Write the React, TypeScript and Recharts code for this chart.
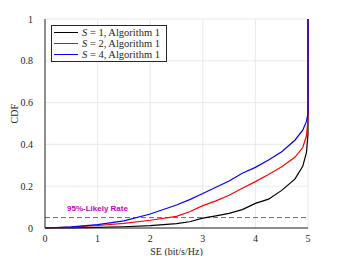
import { LineChart, Line, XAxis, YAxis, CartesianGrid, ReferenceLine } from 'recharts';

const xs = [0, 0.5, 1, 1.5, 2, 2.5, 2.75, 3, 3.25, 3.5, 3.75, 4, 4.25, 4.5, 4.75, 4.9, 4.97, 5, 5];
const s1 = [0, 0.001, 0.003, 0.006, 0.011, 0.021, 0.03, 0.047, 0.058, 0.07, 0.088, 0.118, 0.138, 0.18, 0.234, 0.295, 0.36, 0.45, 1];
const s2 = [0, 0.004, 0.012, 0.022, 0.037, 0.056, 0.078, 0.107, 0.13, 0.157, 0.19, 0.222, 0.256, 0.293, 0.338, 0.385, 0.44, 0.52, 1];
const s4 = [0, 0.005, 0.016, 0.034, 0.067, 0.11, 0.136, 0.165, 0.195, 0.225, 0.262, 0.29, 0.325, 0.365, 0.42, 0.468, 0.51, 0.55, 1];

const xTicks = [0, 1, 2, 3, 4, 5];
const yTicks = [0, 0.2, 0.4, 0.6, 0.8, 1];

const series = [
    { key: 's1', label: '1', color: '#000000' },
    { key: 's2', label: '2', color: '#ff0000' },
    { key: 's4', label: '4', color: '#0000ff' },
];

const data = xs.map((x, i) => ({ x, s1: s1[i], s2: s2[i], s4: s4[i] }));

const serif = '"Liberation Serif", "DejaVu Serif", serif';
const axisColor = '#262626';

export default function App() {
    return (
        <div style={{ position: 'absolute', left: 0, top: 0, width: 341, height: 256, background: '#fff' }}>
            <LineChart width={341} height={256} data={data} margin={{ top: 19, right: 33, bottom: 0, left: 0 }}>
                <CartesianGrid stroke="#e4e4e4" strokeWidth={0.8} />
                <XAxis
                    dataKey="x"
                    type="number"
                    domain={[0, 5]}
                    ticks={xTicks}
                    height={28}
                    stroke={axisColor}
                    tickLine={false}
                    tick={{ fill: axisColor, fontSize: 10, fontFamily: serif }}
                    tickMargin={1}
                    label={{ value: 'SE (bit/s/Hz)', position: 'insideBottom', offset: 1, fill: axisColor, fontSize: 10, fontFamily: serif }}
                />
                <XAxis xAxisId="top" orientation="top" dataKey="x" type="number" domain={[0, 5]} ticks={xTicks} height={0} stroke={axisColor} tick={false} tickLine={false} />
                <YAxis
                    type="number"
                    domain={[0, 1]}
                    ticks={yTicks}
                    width={45}
                    stroke={axisColor}
                    tickLine={false}
                    tick={{ fill: axisColor, fontSize: 10, fontFamily: serif }}
                    tickMargin={6}
                    label={{ value: 'CDF', angle: -90, position: 'insideLeft', offset: 14, fill: axisColor, fontSize: 10, fontFamily: serif }}
                />
                <YAxis yAxisId="right" orientation="right" type="number" domain={[0, 1]} ticks={yTicks} width={0} stroke={axisColor} tick={false} tickLine={false} />
                <ReferenceLine
                    y={0.05}
                    stroke="#e020e0"
                    strokeDasharray="5 3"
                    strokeWidth={1}
                    label={{ value: '95%-Likely Rate', position: 'insideBottomLeft', dx: 17, dy: -2, fill: '#c800c8', fontSize: 8, fontWeight: 'bold', fontFamily: 'Arial, "Liberation Sans", sans-serif' }}
                />
                {series.map((s) => (
                    <Line key={s.key} type="linear" dataKey={s.key} stroke={s.color} strokeWidth={1.2} dot={false} isAnimationActive={false} />
                ))}
            </LineChart>
            <div
                style={{
                    position: 'absolute',
                    left: 51,
                    top: 25,
                    width: 116,
                    height: 37,
                    border: `1px solid ${axisColor}`,
                    background: '#fff',
                    fontFamily: serif,
                    fontSize: 10.5,
                    color: axisColor,
                    boxSizing: 'border-box',
                    paddingTop: 1,
                }}
            >
                {series.map((s) => (
                    <div key={s.key} style={{ display: 'flex', alignItems: 'center', height: 11, lineHeight: '11px' }}>
                        <span style={{ display: 'inline-block', width: 24, height: 1, background: s.color, marginLeft: 2, marginRight: 4 }} />
                        <span>
                            <i>S</i> = {s.label}, Algorithm 1
                        </span>
                    </div>
                ))}
            </div>
        </div>
    );
}
